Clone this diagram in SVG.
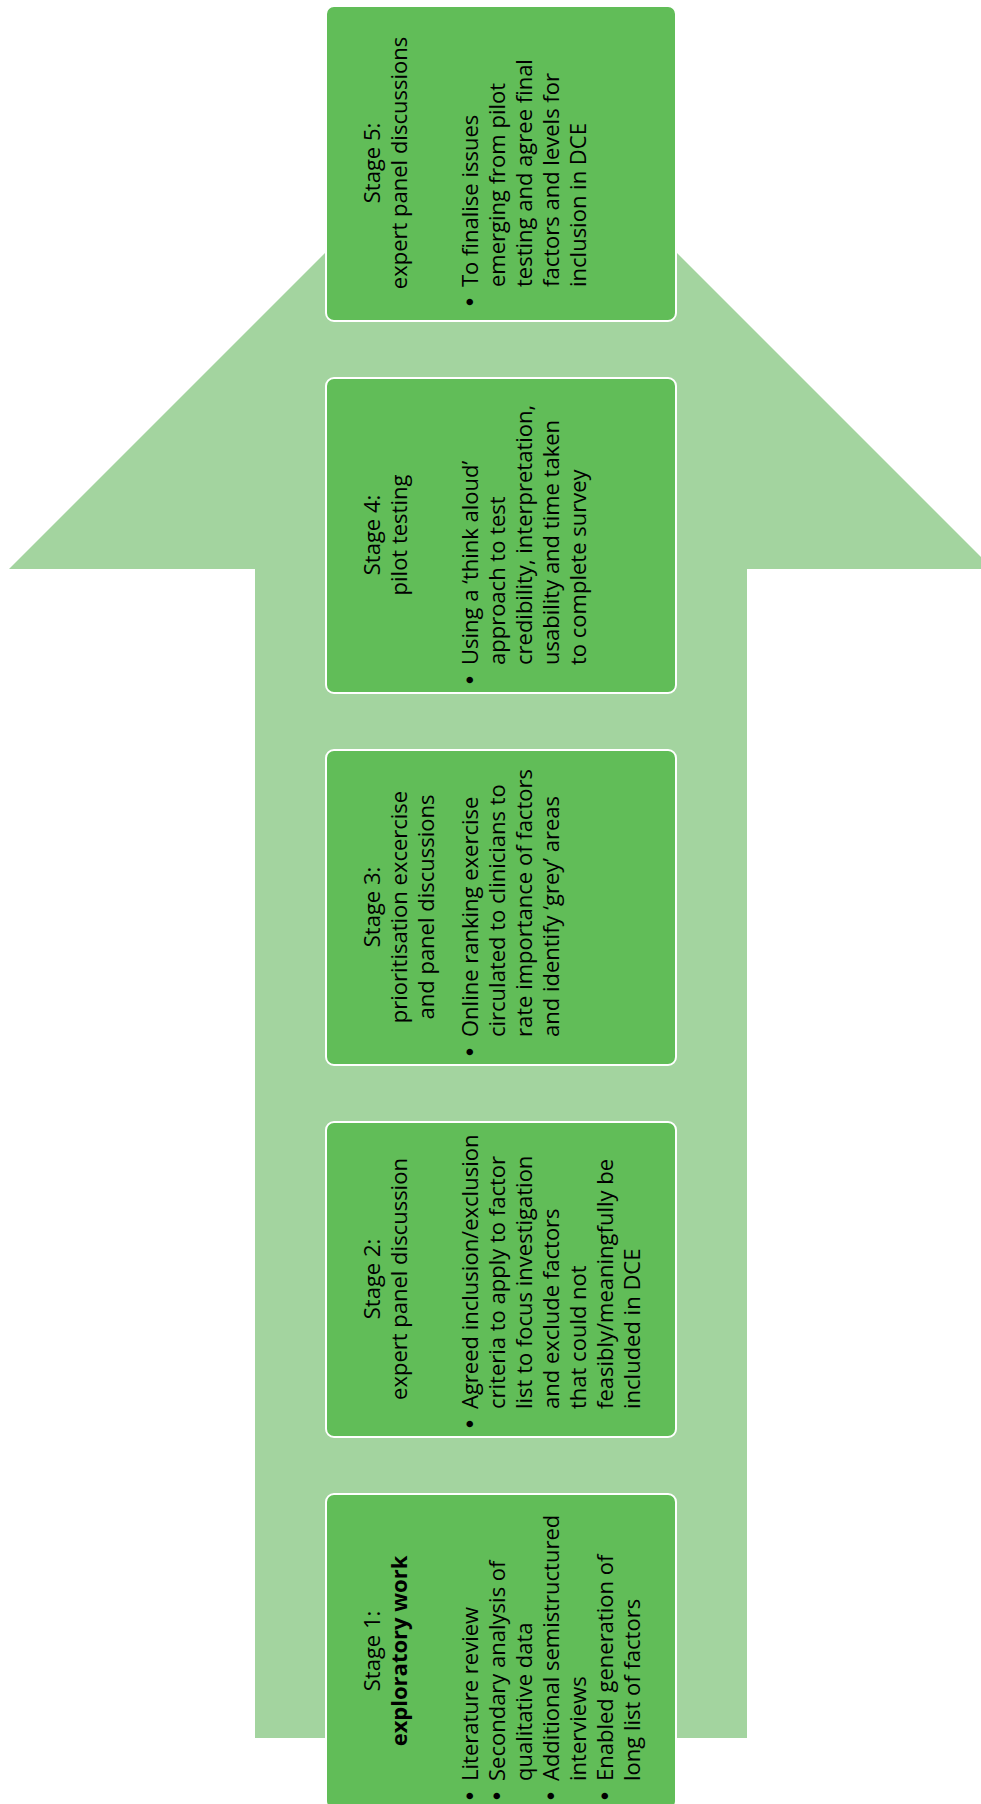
<svg xmlns="http://www.w3.org/2000/svg" width="981" height="1804" viewBox="0 0 981 1804">
<style>
.box{fill:#61bd58;stroke:#ffffff;stroke-width:2}
.arrow{fill:#a3d49f}
text{font-family:"Open Sans","Noto Sans","Liberation Sans",sans-serif;font-size:22px;fill:#000000}
.t{text-anchor:middle}
.b{text-anchor:middle;font-family:"Liberation Sans",Arial,sans-serif;font-size:24px}
.bold{font-weight:bold}
</style>
<rect width="981" height="1804" fill="#ffffff"/>
<g id="connectors">
<polygon id="big-arrow" class="arrow" points="255,1738 255,569 9,569 501,77 993,569 747,569 747,1738"/>
</g>
<g id="stage5">
<rect class="box" x="326" y="6" width="350" height="315" rx="8" ry="8"/>
<g transform="translate(501,163) rotate(-90)">
<text class="t" x="0" y="-121">Stage 5:</text>
<text class="t" x="0" y="-94">expert panel discussions</text>
<text class="b" x="-139" y="-23">•</text>
<text x="-124" y="-23">To finalise issues</text>
<text x="-124" y="4">emerging from pilot</text>
<text x="-124" y="31">testing and agree final</text>
<text x="-124" y="58">factors and levels for</text>
<text x="-124" y="85">inclusion in DCE</text>
</g>
</g>
<g id="stage4">
<rect class="box" x="326" y="378" width="350" height="315" rx="8" ry="8"/>
<g transform="translate(501,535) rotate(-90)">
<text class="t" x="0" y="-121">Stage 4:</text>
<text class="t" x="0" y="-94">pilot testing</text>
<text class="b" x="-145" y="-23">•</text>
<text x="-130" y="-23">Using a ‘think aloud’</text>
<text x="-130" y="4">approach to test</text>
<text x="-130" y="31">credibility, interpretation,</text>
<text x="-130" y="58">usability and time taken</text>
<text x="-130" y="85">to complete survey</text>
</g>
</g>
<g id="stage3">
<rect class="box" x="326" y="750" width="350" height="315" rx="8" ry="8"/>
<g transform="translate(501,907) rotate(-90)">
<text class="t" x="0" y="-121">Stage 3:</text>
<text class="t" x="0" y="-94">prioritisation excercise</text>
<text class="t" x="0" y="-67">and panel discussions</text>
<text class="b" x="-145" y="-23">•</text>
<text x="-130" y="-23">Online ranking exercise</text>
<text x="-130" y="4">circulated to clinicians to</text>
<text x="-130" y="31">rate importance of factors</text>
<text x="-130" y="58">and identify ‘grey’ areas</text>
</g>
</g>
<g id="stage2">
<rect class="box" x="326" y="1122" width="350" height="315" rx="8" ry="8"/>
<g transform="translate(501,1279) rotate(-90)">
<text class="t" x="0" y="-121">Stage 2:</text>
<text class="t" x="0" y="-94">expert panel discussion</text>
<text class="b" x="-145" y="-23">•</text>
<text x="-130" y="-23">Agreed inclusion/exclusion</text>
<text x="-130" y="4">criteria to apply to factor</text>
<text x="-130" y="31">list to focus investigation</text>
<text x="-130" y="58">and exclude factors</text>
<text x="-130" y="85">that could not</text>
<text x="-130" y="112">feasibly/meaningfully be</text>
<text x="-130" y="139">included in DCE</text>
</g>
</g>
<g id="stage1">
<rect class="box" x="326" y="1494" width="350" height="315" rx="8" ry="8"/>
<g transform="translate(501,1651) rotate(-90)">
<text class="t" x="0" y="-121">Stage 1:</text>
<text class="t bold" x="0" y="-94">exploratory work</text>
<text class="b" x="-145" y="-23">•</text>
<text x="-130" y="-23">Literature review</text>
<text class="b" x="-145" y="4">•</text>
<text x="-130" y="4">Secondary analysis of</text>
<text x="-130" y="31">qualitative data</text>
<text class="b" x="-145" y="58">•</text>
<text x="-130" y="58">Additional semistructured</text>
<text x="-130" y="85">interviews</text>
<text class="b" x="-145" y="112">•</text>
<text x="-130" y="112">Enabled generation of</text>
<text x="-130" y="139">long list of factors</text>
</g>
</g>
</svg>
